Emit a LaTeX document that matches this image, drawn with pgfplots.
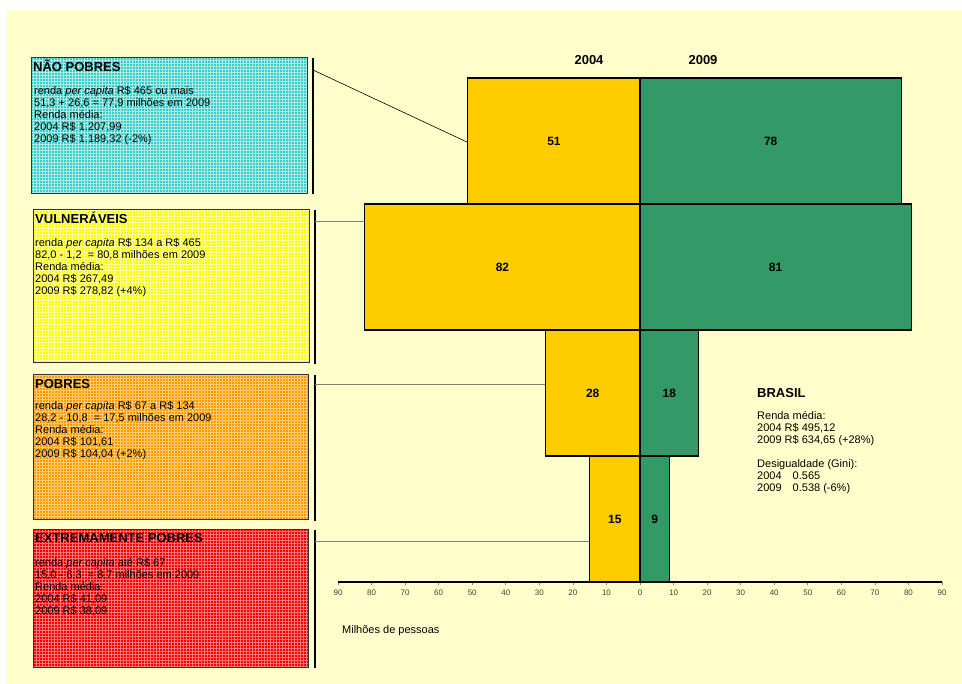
\documentclass[border=0pt]{standalone}
\usepackage{pgfplots}
\pgfplotsset{compat=1.18}
\usepackage{fontspec}
\setmainfont{Liberation Sans}

\definecolor{panel}{HTML}{FFFFCC}
\definecolor{bar04}{HTML}{FFCC00}
\definecolor{bar09}{HTML}{339966}
\definecolor{cyanA}{HTML}{3CCACA}
\definecolor{cyanB}{HTML}{A8ECE4}
\definecolor{yelA}{HTML}{FFFF00}
\definecolor{yelB}{HTML}{FFFFA8}
\definecolor{oraA}{HTML}{FF9A00}
\definecolor{oraB}{HTML}{FFCC70}
\definecolor{redA}{HTML}{F40000}
\definecolor{redB}{HTML}{FF7878}
\definecolor{linkgray}{HTML}{808070}

% box: x1, y1, x2, y2, base colour, line colour
\newcommand{\patbox}[6]{%
  \fill[#5] (#1,#2) rectangle (#3,#4);
  \draw[#6, line width=0.7pt, step=3pt] (#1,#2) grid (#3,#4);
  \draw[black!80, line width=1pt] (#1,#2) rectangle (#3,#4);
}

\newcommand{\bodyfont}{\fontsize{11}{12}\selectfont}
\newcommand{\headfont}{\fontsize{13}{15}\selectfont\bfseries}
% text block whose reference point is the first baseline
\newcommand{\block}[1]{\begin{tabular}[t]{@{}l@{}}#1\end{tabular}}

\begin{document}
\begin{tikzpicture}
\begin{scope}[x=1pt, y=1pt]
% page and panel
\fill[white] (0,0) rectangle (962,684);
\fill[panel] (7,0) rectangle (962,674);

% category boxes
\patbox{31}{490}{307}{626}{cyanA}{cyanB}
\patbox{33}{321}{309}{474}{yelA}{yelB}
\patbox{33}{164}{308}{309}{oraA}{oraB}
\patbox{33}{16}{308}{154}{redA}{redB}

% brackets and connectors
\draw[black, line width=1.2pt] (313,626) -- (313,490);
\draw[black, line width=1.2pt] (315,474) -- (315,320);
\draw[black, line width=1.2pt] (315,309) -- (315,163);
\draw[black, line width=1.2pt] (315,154) -- (315,16);
\draw[black, line width=0.6pt] (313,614) -- (469,541);
\draw[linkgray, line width=1pt] (315,462) -- (365,462);
\draw[linkgray, line width=1pt] (315,299) -- (546,299);
\draw[linkgray, line width=1pt] (315,142) -- (590,142);

% box texts
\node[anchor=base west, inner sep=0, font=\headfont] at (33,612) {NÃO POBRES};
\node[anchor=base west, inner sep=0, font=\bodyfont] at (34,589)
  {\block{renda \textit{per capita} R\$ 465 ou mais\\
   51,3 + 26,6 = 77,9 milhões em 2009\\
   Renda média:\\
   2004 R\$ 1.207,99\\
   2009 R\$ 1.189,32 (-2\%)}};

\node[anchor=base west, inner sep=0, font=\headfont] at (35,460.5) {VULNERÁVEIS};
\node[anchor=base west, inner sep=0, font=\bodyfont] at (35,437.5)
  {\block{renda \textit{per capita} R\$ 134 a R\$ 465\\
   82,0 - 1,2 \ = 80,8 milhões em 2009\\
   Renda média:\\
   2004 R\$ 267,49\\
   2009 R\$ 278,82 (+4\%)}};

\node[anchor=base west, inner sep=0, font=\headfont] at (35,295.5) {POBRES};
\node[anchor=base west, inner sep=0, font=\bodyfont] at (35,274.5)
  {\block{renda \textit{per capita} R\$ 67 a R\$ 134\\
   28,2 - 10,8 \ = 17,5 milhões em 2009\\
   Renda média:\\
   2004 R\$ 101,61\\
   2009 R\$ 104,04 (+2\%)}};

\node[anchor=base west, inner sep=0, font=\headfont] at (35,141.5) {EXTREMAMENTE POBRES};
\node[anchor=base west, inner sep=0, font=\bodyfont] at (35,117.5)
  {\block{renda \textit{per capita} até R\$ 67\\
   15,0 - 6,3 \ = 8,7 milhões em 2009\\
   Renda média:\\
   2004 R\$ 41,09\\
   2009 R\$ 38,09}};

% Brasil summary
\node[anchor=base west, inner sep=0, font=\headfont] at (757,286.5) {BRASIL};
\node[anchor=base west, inner sep=0, font=\bodyfont] at (757,264.5)
  {\block{Renda média:\\
   2004 R\$ 495,12\\
   2009 R\$ 634,65 (+28\%)\\
   \\
   Desigualdade (Gini):\\
   2004 \hspace{8pt}0.565\\
   2009 \hspace{8pt}0.538 (-6\%)}};

% column headers and unit
\node[font=\headfont] at (589,624) {2004};
\node[font=\headfont] at (703,624) {2009};
\node[anchor=west, inner sep=0, font=\bodyfont] at (342,53) {Milhões de pessoas};
\end{scope}

\begin{axis}[
  at={(338pt,102pt)}, anchor=south west,
  scale only axis, width=604pt, height=504pt,
  xmin=-90, xmax=90, ymin=-0.5, ymax=3.5,
  clip=false,
  axis x line*=bottom, hide y axis,
  axis line style={black, line width=1.2pt},
  xtick={-90,-80,...,90},
  xticklabels={90,80,70,60,50,40,30,20,10,0,10,20,30,40,50,60,70,80,90},
  tick align=outside, major tick length=3pt,
  tick style={gray, line width=0.6pt},
  xticklabel style={font=\fontsize{8}{9}\selectfont, text=black!75, yshift=-1pt},
]
% 2004 (left)
\addplot[xbar, bar width=1, bar shift=0pt, fill=bar04, draw=black, line width=1.1pt]
  table[x=x, y=y] {
  y x
  0 -15.0
  1 -28.2
  2 -82.0
  3 -51.3
};
% 2009 (right)
\addplot[xbar, bar width=1, bar shift=0pt, fill=bar09, draw=black, line width=1.1pt]
  table[x=x, y=y] {
  y x
  0 8.7
  1 17.5
  2 80.8
  3 77.9
};
% value labels at bar centres
\addplot[draw=none, mark=none, nodes near coords, point meta=explicit symbolic,
  nodes near coords style={anchor=center, font=\fontsize{12}{14}\selectfont\bfseries, text=black}]
  table[x=x, y=y, meta=lab] {
  x y lab
  -7.5 0 15
  -14.1 1 28
  -41.0 2 82
  -25.65 3 51
  4.35 0 9
  8.75 1 18
  40.4 2 81
  38.95 3 78
};
\end{axis}
\end{tikzpicture}
\end{document}
